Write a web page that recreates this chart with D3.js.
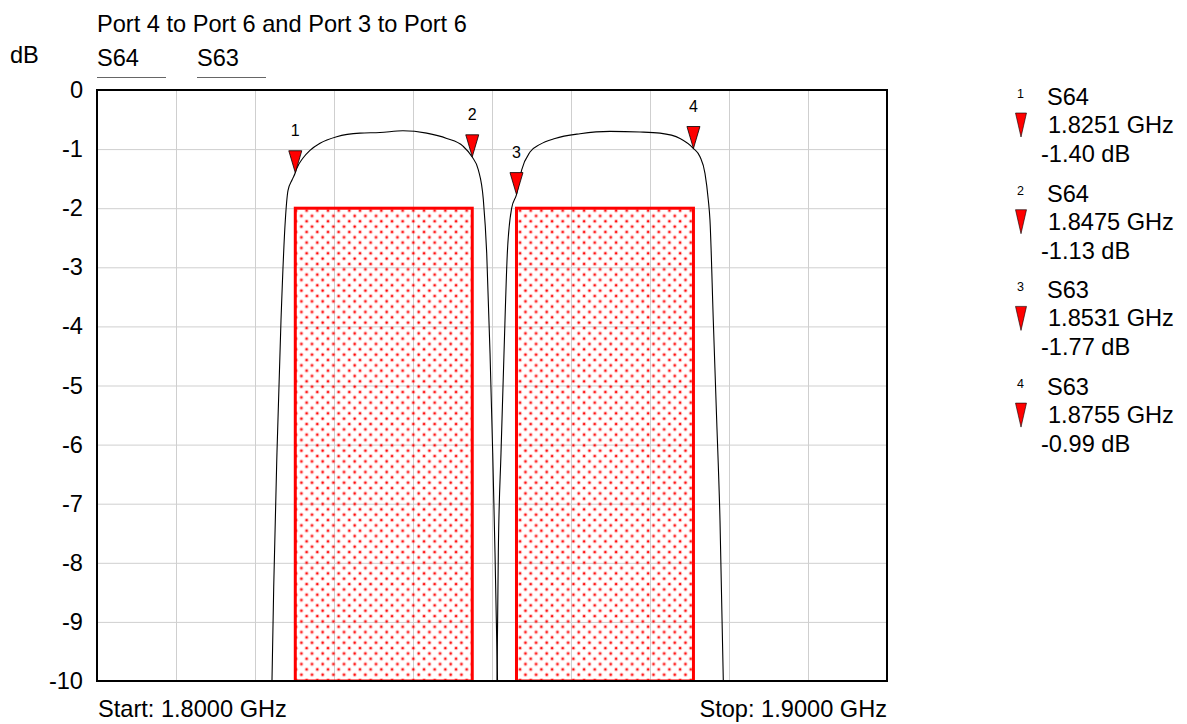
<!DOCTYPE html>
<html>
<head>
<meta charset="utf-8">
<script src="https://cdn.jsdelivr.net/npm/d3@7"></script>
<style>
  html, body { margin: 0; padding: 0; background: #fff; }
  svg { display: block; font-family: "Liberation Sans", Arial, sans-serif; }
</style>
</head>
<body>
<svg id="chart" width="1187" height="724"></svg>
<script>
// ---------------- data ----------------
const title = "Port 4 to Port 6 and Port 3 to Port 6";
const seriesNames = ["S64", "S63"];
const yTicks = [0, -1, -2, -3, -4, -5, -6, -7, -8, -9, -10];
const xGrid = [1.81, 1.82, 1.83, 1.84, 1.85, 1.86, 1.87, 1.88, 1.89];

const freqS64 = [1.82215, 1.82237, 1.82278, 1.82329, 1.82384, 1.82418, 1.82470, 1.82510, 1.82528, 1.82608,
                 1.82696, 1.82823, 1.83034, 1.83329, 1.83582, 1.83873, 1.84173, 1.84427, 1.84633, 1.84747,
                 1.84827, 1.84890, 1.84933, 1.84975, 1.85009, 1.85038, 1.85070];
const dbS64   = [-10, -8.4, -6.14, -3.9, -2.2, -1.70, -1.52, -1.40, -1.33, -1.15,
                 -1.02, -0.90, -0.79, -0.73, -0.72, -0.69, -0.73, -0.82, -0.95, -1.13,
                 -1.35, -1.85, -2.76, -4.45, -6.14, -7.83, -10];

const freqS63 = [1.85063, 1.85080, 1.85114, 1.85152, 1.85194, 1.85249, 1.85310, 1.85376, 1.85481, 1.85608,
                 1.85797, 1.86114, 1.86494, 1.86873, 1.87127, 1.87380, 1.87551, 1.87633, 1.87696, 1.87738,
                 1.87759, 1.87801, 1.87844, 1.87886, 1.87928];
const dbS63   = [-10, -7.83, -6.14, -4.45, -2.76, -2.0, -1.77, -1.35, -1.05, -0.92,
                 -0.82, -0.74, -0.70, -0.71, -0.73, -0.82, -0.99, -1.13, -1.41, -1.86,
                 -2.2, -3.89, -5.58, -7.28, -10];

const markerIds    = [1, 2, 3, 4];
const markerSeries = ["S64", "S64", "S63", "S63"];
const markerFreq   = [1.8251, 1.8475, 1.8531, 1.8755];
const markerDb     = [-1.40, -1.13, -1.77, -0.99];

const maskStart = [1.8251, 1.8531];
const maskEnd   = [1.8475, 1.8755];
const maskTop   = [-2, -2];
const maskBottom = [-10, -10];

const startLabel = "Start: 1.8000 GHz";
const stopLabel = "Stop: 1.9000 GHz";

// ---------------- chart ----------------
const svg = d3.select("#chart");
const L = 97, R = 887, T = 90, B = 681;
const FS = 23.6;

const x = d3.scaleLinear().domain([1.8, 1.9]).range([L, R]);
const y = d3.scaleLinear().domain([0, -10]).range([T, B]);

const defs = svg.append("defs");
const pat = defs.append("pattern").attr("id", "dots")
  .attr("patternUnits", "userSpaceOnUse")
  .attr("width", 10.67).attr("height", 10.67)
  .attr("x", 0).attr("y", 0);
[[2.6, 2.6], [7.9, 7.9]].forEach(([cx, cy]) => {
  pat.append("circle").attr("cx", cx).attr("cy", cy).attr("r", 2).attr("fill", "rgba(255,0,0,0.28)");
  pat.append("circle").attr("cx", cx).attr("cy", cy).attr("r", 1.1).attr("fill", "#ff0000");
});
defs.append("clipPath").attr("id", "plotclip")
  .append("rect").attr("x", L).attr("y", T).attr("width", R - L).attr("height", B - T);

// grid
svg.append("g").attr("transform", `translate(0,${B})`)
  .call(d3.axisBottom(x).tickValues(xGrid).tickSize(-(B - T)).tickFormat(""))
  .call(g => g.select(".domain").remove())
  .call(g => g.selectAll("line").attr("stroke", "#cfcfcf").attr("stroke-width", 1));
svg.append("g").attr("transform", `translate(${L},0)`)
  .call(d3.axisLeft(y).tickValues(yTicks.slice(1, -1)).tickSize(-(R - L)).tickFormat(""))
  .call(g => g.select(".domain").remove())
  .call(g => g.selectAll("line").attr("stroke", "#cfcfcf").attr("stroke-width", 1));

// y labels
svg.append("g").attr("transform", `translate(${L},0)`)
  .call(d3.axisLeft(y).tickValues(yTicks).tickSize(0).tickPadding(14).tickFormat(d => String(d)))
  .call(g => g.select(".domain").remove())
  .call(g => g.selectAll("text").attr("font-size", FS).attr("fill", "#000")
    .attr("font-family", "'Liberation Sans', Arial, sans-serif"));

// masks
const plot = svg.append("g").attr("clip-path", "url(#plotclip)");
plot.selectAll("rect.mask").data(maskStart).join("rect").attr("class", "mask")
  .attr("x", (d, i) => x(maskStart[i]))
  .attr("y", (d, i) => y(maskTop[i]))
  .attr("width", (d, i) => x(maskEnd[i]) - x(maskStart[i]))
  .attr("height", (d, i) => y(maskBottom[i]) - y(maskTop[i]))
  .attr("fill", "url(#dots)")
  .attr("stroke", "#ff0000").attr("stroke-width", 3);

// curves
const line = d3.line().x(d => x(d[0])).y(d => y(d[1])).curve(d3.curveMonotoneX);
const s64 = freqS64.map((f, i) => [f, dbS64[i]]);
const s63 = freqS63.map((f, i) => [f, dbS63[i]]);
[s64, s63].forEach(s => {
  plot.append("path").datum(s).attr("d", line)
    .attr("fill", "none").attr("stroke", "#000").attr("stroke-width", 1.1);
});

// frame
svg.append("rect").attr("x", L).attr("y", T).attr("width", R - L).attr("height", B - T)
  .attr("fill", "none").attr("stroke", "#000").attr("stroke-width", 2);

// markers
const triH = 22, triW = 13;
markerIds.forEach((id, i) => {
  const mx = x(markerFreq[i]), my = y(markerDb[i]);
  svg.append("path")
    .attr("d", `M${mx},${my} L${mx - triW / 2},${my - triH} L${mx + triW / 2},${my - triH} Z`)
    .attr("fill", "#ff0000").attr("stroke", "#000").attr("stroke-width", 0.8);
  svg.append("text").attr("x", mx).attr("y", my - triH - 15)
    .attr("text-anchor", "middle").attr("font-size", 16).text(id);
});

// title etc
svg.append("text").attr("x", L).attr("y", 32).attr("font-size", FS).text(title);
svg.append("text").attr("x", 10).attr("y", 63).attr("font-size", FS).text("dB");
const legX = [97, 197];
seriesNames.forEach((n, i) => {
  svg.append("text").attr("x", legX[i]).attr("y", 66).attr("font-size", FS).text(n);
  svg.append("line").attr("x1", legX[i]).attr("x2", legX[i] + 69).attr("y1", 77.5).attr("y2", 77.5)
    .attr("stroke", "#666").attr("stroke-width", 1);
});
svg.append("text").attr("x", 98).attr("y", 717).attr("font-size", FS).text(startLabel);
svg.append("text").attr("x", 887).attr("y", 717).attr("font-size", FS).attr("text-anchor", "end").text(stopLabel);

// right marker legend
const legY0 = 105, legDY = 96.7;
markerIds.forEach((id, i) => {
  const by = legY0 + i * legDY;
  svg.append("text").attr("x", 1017).attr("y", by - 7).attr("font-size", 12.5).text(id);
  svg.append("text").attr("x", 1047).attr("y", by).attr("font-size", FS).text(markerSeries[i]);
  svg.append("path")
    .attr("d", `M1021,${by + 32} L1015.5,${by + 8} L1026.5,${by + 8} Z`)
    .attr("fill", "#ff0000").attr("stroke", "#000").attr("stroke-width", 0.6);
  svg.append("text").attr("x", 1048).attr("y", by + 28).attr("font-size", FS)
    .text(markerFreq[i].toFixed(4) + " GHz");
  svg.append("text").attr("x", 1041).attr("y", by + 57).attr("font-size", FS)
    .text(markerDb[i].toFixed(2) + " dB");
});
</script>
</body>
</html>
